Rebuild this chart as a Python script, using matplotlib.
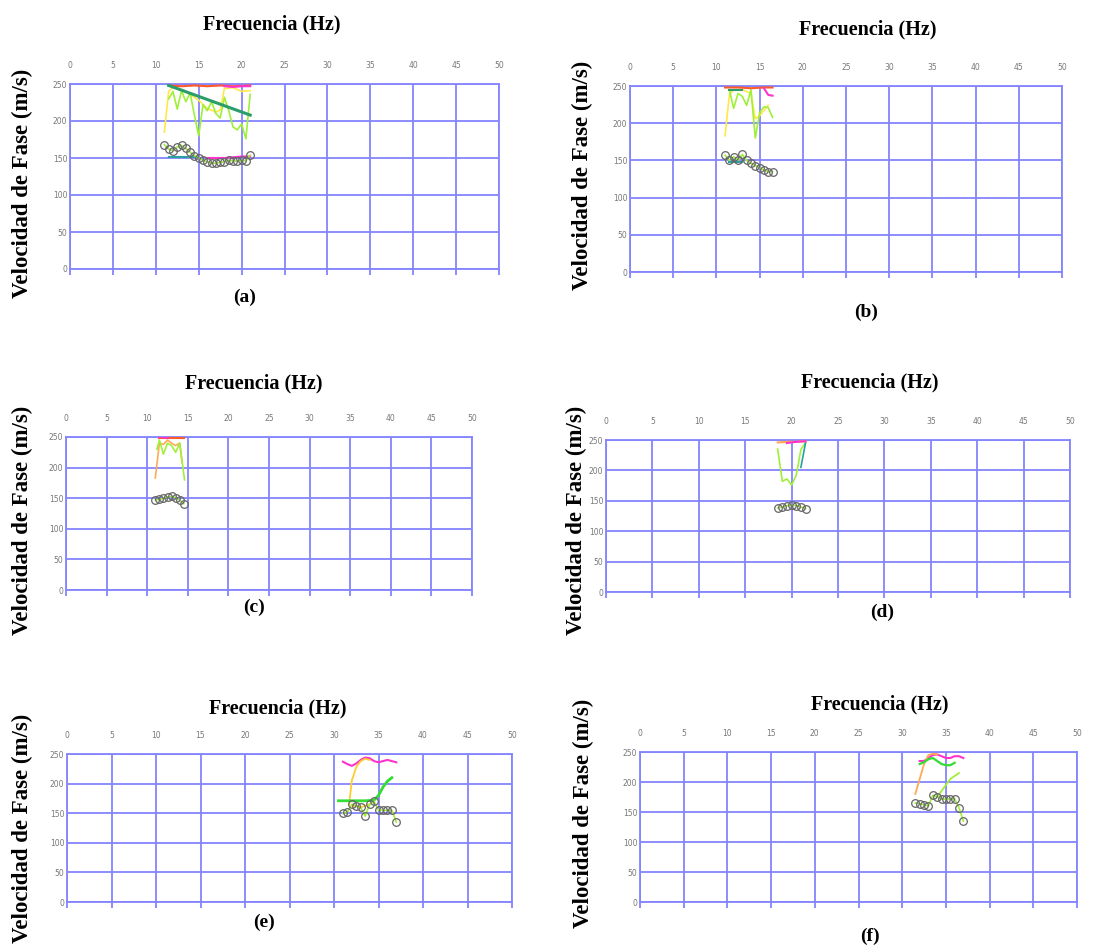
import matplotlib
matplotlib.use("Agg")
import matplotlib.pyplot as plt

# ========= 数据（频率 Hz / 相速度 m/s） =========
# (a)
a_rojo_f = [11.5, 13, 14.5, 16, 17.5, 19, 21]
a_rojo_v = [248, 247, 248, 247, 248, 247, 248]
a_mag_f = [18, 19, 20, 21]
a_mag_v = [247, 246, 247, 247]
a_amar_f = [11, 11.5, 12, 13, 14, 15, 16, 17, 17.5, 18, 19, 20, 21]
a_amar_v = [185, 240, 246, 243, 236, 228, 217, 212, 215, 244, 245, 240, 241]
a_lima_f = [11.5, 12, 12.5, 13, 13.5, 14, 14.5, 15, 15.5, 16, 16.5, 17, 17.5, 18, 18.5, 19, 19.5, 20, 20.5, 21]
a_lima_v = [230, 240, 216, 241, 226, 238, 208, 180, 222, 214, 226, 210, 204, 232, 214, 192, 188, 196, 176, 236]
a_recta_f = [11.5, 21]
a_recta_v = [248, 208]
a_pts_f = [11, 11.5, 12, 12.5, 13, 13.5, 14, 14.5, 15, 15.5, 16, 16.5, 17, 17.5, 18, 18.5, 19, 19.5, 20, 20.5, 21]
a_pts_v = [168, 162, 160, 165, 167, 163, 158, 153, 150, 147, 145, 143, 143, 144, 145, 147, 146, 146, 147, 146, 154]
a_mag2_f = [16, 17, 18, 19, 20, 21]
a_mag2_v = [150, 150, 150, 151, 152, 152]
a_teal_f = [11.5, 14.5]
a_teal_v = [152, 152]

# (b)
b_rojo_f = [11, 12.5, 14, 15.5, 16.5]
b_rojo_v = [248, 248, 247, 248, 248]
b_mag_f = [15.5, 16, 16.5]
b_mag_v = [247, 238, 237]
b_amar_f = [11, 11.5, 12, 13, 14, 14.5, 15, 16]
b_amar_v = [183, 238, 245, 245, 240, 206, 210, 224]
b_lima_f = [11.5, 12, 12.5, 13, 13.5, 14, 14.5, 15, 15.5, 16, 16.5]
b_lima_v = [245, 220, 240, 236, 224, 245, 180, 214, 222, 221, 208]
b_verde_f = [11.5, 13]
b_verde_v = [245, 245]
b_pts_f = [11, 11.5, 12, 12.5, 13, 13.5, 14, 14.5, 15, 15.5, 16, 16.5]
b_pts_v = [157, 150, 155, 150, 158, 150, 146, 143, 140, 137, 135, 135]
b_teal_f = [11.5, 13]
b_teal_v = [148, 148]

# (c)
c_rojo_f = [11.5, 12.5, 13.5, 14.5]
c_rojo_v = [248, 248, 248, 248]
c_mag_f = [11.5, 12, 12.5]
c_mag_v = [250, 250, 249]
c_nar_f = [11, 11.5, 12, 12.5, 13, 13.5, 14, 14.3]
c_nar_v = [183, 240, 238, 245, 240, 236, 240, 208]
c_lima_f = [11.2, 11.5, 12, 12.5, 13, 13.5, 14, 14.6]
c_lima_v = [230, 245, 222, 240, 236, 225, 240, 180]
c_pts_f = [11, 11.5, 12, 12.5, 13, 13.5, 14, 14.5]
c_pts_v = [147, 148, 150, 152, 153, 151, 147, 141]

# (d)
d_rojo_f = [18.5, 19.5, 20.5, 21.5]
d_rojo_v = [246, 247, 247, 248]
d_mag_f = [19.5, 20.5, 21.5]
d_mag_v = [245, 247, 248]
d_lima_f = [18.5, 19, 19.5, 20, 20.5, 21, 21.5]
d_lima_v = [235, 182, 186, 176, 192, 234, 246]
d_teal_f = [21, 21.5]
d_teal_v = [205, 245]
d_pts_f = [18.5, 19, 19.5, 20, 20.5, 21, 21.5]
d_pts_v = [138, 140, 142, 143, 142, 140, 137]

# (e)
e_mag_f = [31, 31.5, 32, 32.5, 33, 33.5, 34, 34.5, 35, 35.5, 36, 36.5, 37]
e_mag_v = [237, 233, 230, 234, 240, 244, 243, 238, 236, 238, 240, 238, 236]
e_amar_f = [31.7, 32, 32.5, 33, 33.5, 34]
e_amar_v = [165, 205, 228, 238, 242, 240]
e_amar2_f = [32, 33, 34]
e_amar2_v = [163, 160, 165]
e_verde_f = [30.5, 31.5, 32.5, 33.5, 34.5, 35, 35.5, 36, 36.5]
e_verde_v = [171, 171, 171, 171, 172, 180, 194, 204, 210]
e_pts_f = [31, 31.5, 32, 32.5, 33, 33.5, 34, 34.5, 35, 35.5, 36, 36.5, 37]
e_pts_v = [150, 152, 165, 163, 160, 145, 165, 170, 155, 155, 155, 155, 135]

# (f)
f_mag_f = [32, 32.5, 33, 33.5, 34, 34.5, 35, 35.5, 36, 36.5, 37]
f_mag_v = [235, 235, 240, 245, 246, 243, 240, 240, 243, 243, 240]
f_nar_f = [31.5, 32, 32.5, 33, 33.5, 34]
f_nar_v = [180, 205, 230, 245, 247, 246]
f_verde_f = [32, 32.5, 33, 33.5, 34, 34.5, 35, 35.5, 36]
f_verde_v = [230, 233, 238, 240, 235, 230, 228, 228, 232]
f_lima_f = [34, 34.5, 35, 35.5, 36, 36.5]
f_lima_v = [175, 185, 195, 205, 210, 215]
f_pts_f = [31.5, 32, 32.5, 33, 33.5, 34, 34.5, 35, 35.5, 36, 36.5, 37]
f_pts_v = [165, 164, 162, 160, 178, 175, 172, 171, 172, 172, 157, 135]

# ========= 颜色 =========
ROJO = "#ff5a2a"
MAG = "#ff33cc"
AMAR = "#ffe84a"
NAR = "#ffa955"
LIMA = "#9ff03a"
VERDE = "#2a9d6a"
VERDE2 = "#33dd33"
TEAL = "#2aa0a0"
GRID = "#8484ff"

W, H = 1100, 948

# 每个子图：框位置(px)、标题、标签位置
panels = [
    dict(box=(70, 499, 84, 269), title=(272, 24), lab="(a)", labxy=(245, 297), ylab=(22, 183),
         lines=[(a_amar_f, a_amar_v, AMAR, 1.2), (a_lima_f, a_lima_v, LIMA, 1.2),
                (a_rojo_f, a_rojo_v, ROJO, 1.5), (a_mag_f, a_mag_v, MAG, 1.5),
                (a_recta_f, a_recta_v, VERDE, 2.2), (a_mag2_f, a_mag2_v, MAG, 1.5),
                (a_teal_f, a_teal_v, TEAL, 1.5)],
         pts=(a_pts_f, a_pts_v)),
    dict(box=(630, 1062, 86, 272), title=(868, 29), lab="(b)", labxy=(866, 312), ylab=(582, 175),
         lines=[(b_amar_f, b_amar_v, AMAR, 1.2), (b_lima_f, b_lima_v, LIMA, 1.2),
                (b_rojo_f, b_rojo_v, ROJO, 1.5), (b_mag_f, b_mag_v, MAG, 1.5),
                (b_verde_f, b_verde_v, VERDE, 1.5), (b_teal_f, b_teal_v, TEAL, 1.5)],
         pts=(b_pts_f, b_pts_v)),
    dict(box=(66, 472, 437, 590), title=(254, 383), lab="(c)", labxy=(254, 607), ylab=(22, 520),
         lines=[(c_nar_f, c_nar_v, NAR, 1.2), (c_lima_f, c_lima_v, LIMA, 1.2),
                (c_rojo_f, c_rojo_v, ROJO, 1.5), (c_mag_f, c_mag_v, MAG, 1.8)],
         pts=(c_pts_f, c_pts_v)),
    dict(box=(606, 1070, 440, 592), title=(870, 382), lab="(d)", labxy=(882, 612), ylab=(576, 520),
         lines=[(d_lima_f, d_lima_v, LIMA, 1.2), (d_teal_f, d_teal_v, TEAL, 1.2),
                (d_rojo_f, d_rojo_v, NAR, 1.5), (d_mag_f, d_mag_v, MAG, 1.5)],
         pts=(d_pts_f, d_pts_v)),
    dict(box=(67, 512, 754, 902), title=(278, 708), lab="(e)", labxy=(264, 922), ylab=(22, 828),
         lines=[(e_mag_f, e_mag_v, MAG, 1.5), (e_amar_f, e_amar_v, "#ffcc33", 1.3),
                (e_amar2_f, e_amar2_v, "#ffcc33", 1.3), (e_verde_f, e_verde_v, VERDE2, 2.0)],
         pts=(e_pts_f, e_pts_v)),
    dict(box=(640, 1077, 752, 902), title=(880, 704), lab="(f)", labxy=(870, 936), ylab=(583, 813),
         lines=[(f_mag_f, f_mag_v, MAG, 1.5), (f_nar_f, f_nar_v, NAR, 1.3),
                (f_verde_f, f_verde_v, VERDE2, 1.6), (f_lima_f, f_lima_v, LIMA, 1.3)],
         pts=(f_pts_f, f_pts_v)),
]

fig = plt.figure(figsize=(W / 100, H / 100), dpi=100)
fig.patch.set_facecolor("white")

SERIF = ["Liberation Serif", "DejaVu Serif"]

for p in panels:
    l, r, t, b = p["box"]
    ax = fig.add_axes([l / W, 1 - b / H, (r - l) / W, (b - t) / H])
    ax.set_xlim(0, 50)
    ax.set_ylim(0, 250)
    ax.set_xticks(range(0, 51, 5))
    ax.set_yticks(range(0, 251, 50))
    ax.grid(True, color=GRID, lw=1.3)
    for s in ax.spines.values():
        s.set_color(GRID)
        s.set_linewidth(1.3)
    ax.tick_params(axis="x", top=False, bottom=True, labeltop=True, labelbottom=False,
                   length=4, width=1.3, color=GRID, labelsize=5.5, labelcolor="#777777", pad=6)
    ax.tick_params(axis="y", left=False, length=0, labelsize=5.5, labelcolor="#777777", pad=2)
    ax.set_axisbelow(True)

    for f, v, c, lw in p["lines"]:
        ax.plot(f, v, color=c, lw=lw, zorder=3)
    pf, pv = p["pts"]
    ax.plot(pf, pv, color=LIMA, lw=1.2, zorder=4)
    ax.plot(pf, pv, ls="none", marker="o", ms=5.5, mfc="none", mec="#666666", mew=0.9, zorder=5)

    tx, ty = p["title"]
    fig.text(tx / W, 1 - ty / H, "Frecuencia (Hz)", ha="center", va="center",
             fontsize=14.5, fontweight="bold", family=SERIF)
    lx, ly = p["labxy"]
    fig.text(lx / W, 1 - ly / H, p["lab"], ha="center", va="center",
             fontsize=14, fontweight="bold", family=SERIF)
    yx, yy = p["ylab"]
    fig.text(yx / W, 1 - yy / H, "Velocidad de Fase (m/s)", ha="center", va="center",
             rotation=90, fontsize=16.5, fontweight="bold", family=SERIF)

fig.savefig("out.png", dpi=100, facecolor="white")
